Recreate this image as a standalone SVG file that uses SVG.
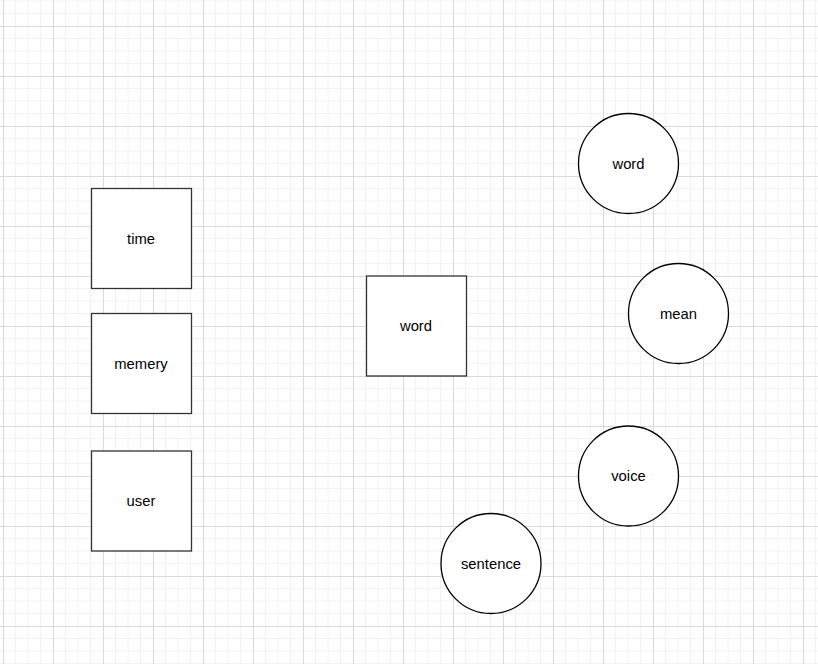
<svg xmlns="http://www.w3.org/2000/svg" width="818" height="664" viewBox="0 0 818 664">
<style>
.box{fill:#fff;stroke:#333;stroke-width:1.3}
.circ{fill:#fff;stroke:#000;stroke-width:1.3}
.lbl{font-family:"Liberation Sans",Arial,sans-serif;font-size:14.8px;fill:#000;text-anchor:middle;dominant-baseline:central}
</style>
<defs>
<pattern id="grid" patternUnits="userSpaceOnUse" x="3" y="26" width="50" height="50">
<path d="M12.5 0V50M25 0V50M37.5 0V50M0 12.5H50M0 25H50M0 37.5H50" fill="none" stroke="#f2f2f2" stroke-width="1"/>
<path d="M0.5 0V50M0 0.5H50" fill="none" stroke="#dadada" stroke-width="1"/>
</pattern>
</defs>
<rect width="818" height="664" fill="#fff"/>
<rect width="818" height="664" fill="url(#grid)"/>
<g id="connectors"></g>
<g id="time"><rect class="box" x="91.5" y="188.5" width="100" height="100"/><text class="lbl" x="141" y="239">time</text></g>
<g id="memery"><rect class="box" x="91.5" y="313.5" width="100" height="100"/><text class="lbl" x="141" y="364">memery</text></g>
<g id="user"><rect class="box" x="91.5" y="451" width="100" height="100"/><text class="lbl" x="141" y="501">user</text></g>
<g id="word-box"><rect class="box" x="366.5" y="276" width="100" height="100"/><text class="lbl" x="416" y="326">word</text></g>
<g id="word-circle"><circle class="circ" cx="628.5" cy="163.5" r="50"/><text class="lbl" x="628.5" y="164">word</text></g>
<g id="mean"><circle class="circ" cx="678.5" cy="313.5" r="50"/><text class="lbl" x="678.5" y="314">mean</text></g>
<g id="voice"><circle class="circ" cx="628.5" cy="476" r="50"/><text class="lbl" x="628.5" y="476">voice</text></g>
<g id="sentence"><circle class="circ" cx="491" cy="563.5" r="50"/><text class="lbl" x="491" y="564">sentence</text></g>
</svg>
